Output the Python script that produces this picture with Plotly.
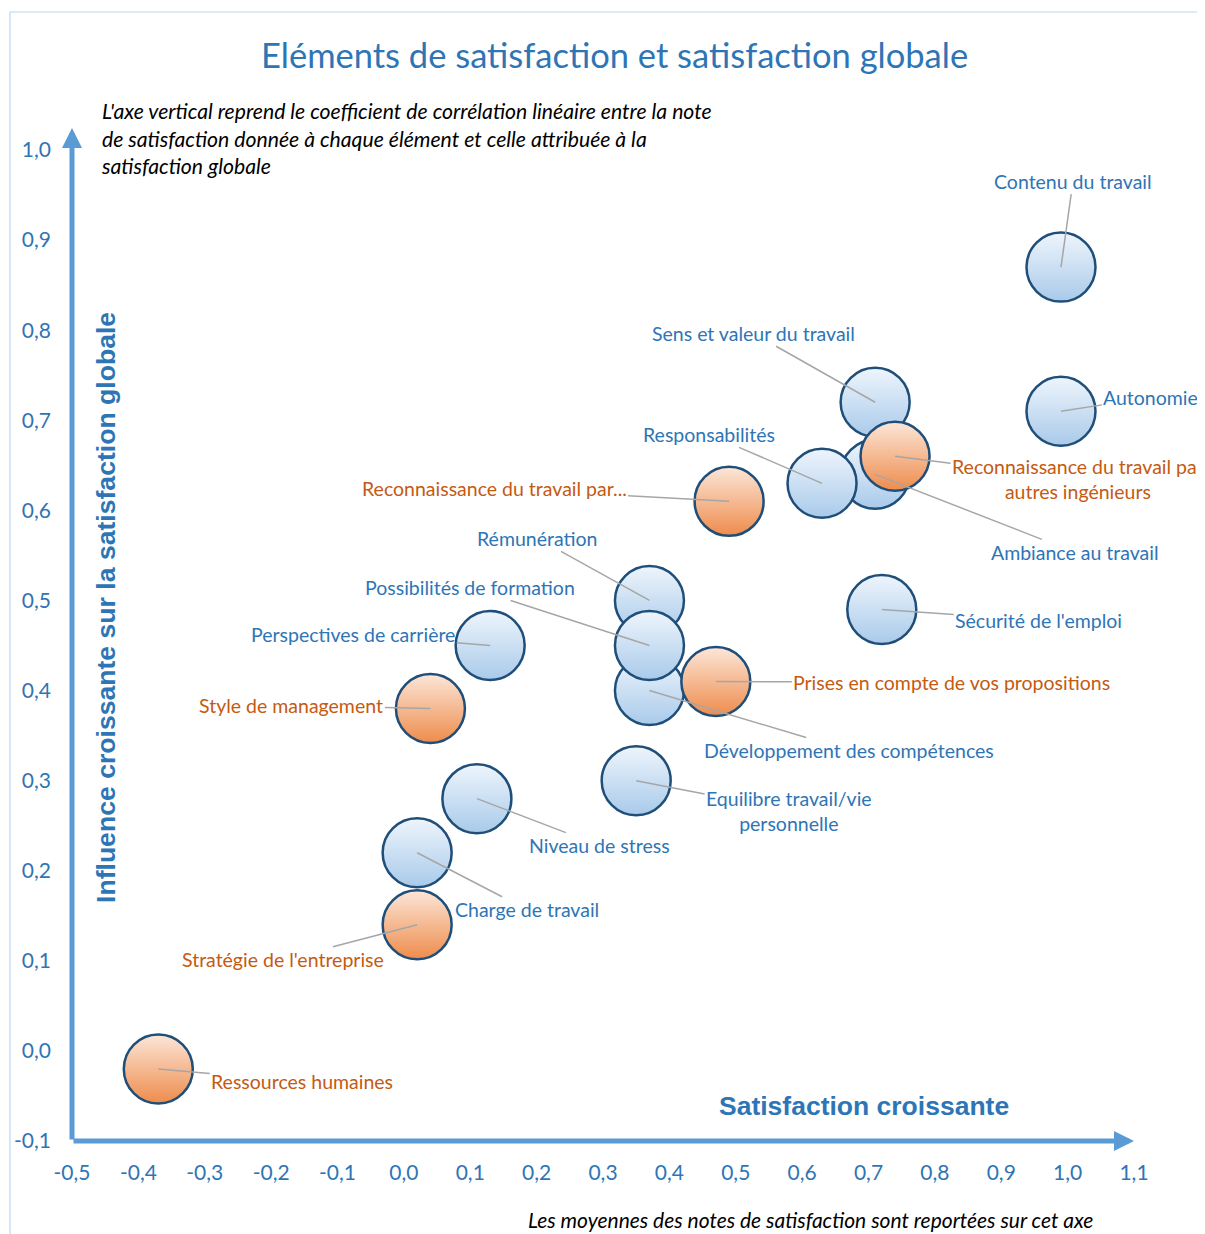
import plotly.graph_objects as go

# ---------------- data ----------------
blue_names = ["Contenu du travail", "Autonomie", "Ambiance au travail", "Sens et valeur du travail",
              "Responsabilités", "Sécurité de l'emploi", "Rémunération", "Développement des compétences",
              "Possibilités de formation", "Perspectives de carrière", "Equilibre travail/vie<br>personnelle",
              "Niveau de stress", "Charge de travail"]
blue_x = [0.99, 0.99, 0.71, 0.71, 0.63, 0.72, 0.37, 0.37, 0.37, 0.13, 0.35, 0.11, 0.02]
blue_y = [0.87, 0.71, 0.64, 0.72, 0.63, 0.49, 0.50, 0.40, 0.45, 0.45, 0.30, 0.28, 0.22]

orange_names = ["Reconnaissance du travail par<br>autres ingénieurs", "Reconnaissance du travail par...",
                "Prises en compte de vos propositions", "Style de management",
                "Stratégie de l'entreprise", "Ressources humaines"]
orange_x = [0.74, 0.49, 0.47, 0.04, 0.02, -0.37]
orange_y = [0.66, 0.61, 0.41, 0.38, 0.14, -0.02]

x_ticks = [-0.5, -0.4, -0.3, -0.2, -0.1, 0.0, 0.1, 0.2, 0.3, 0.4, 0.5, 0.6, 0.7, 0.8, 0.9, 1.0, 1.1]
y_ticks = [-0.1, 0.0, 0.1, 0.2, 0.3, 0.4, 0.5, 0.6, 0.7, 0.8, 0.9, 1.0]
x_ticktext = [f"{v:.1f}".replace(".", ",") for v in x_ticks]
y_ticktext = [f"{v:.1f}".replace(".", ",") for v in y_ticks]

# label offsets in pixels (layout only)
blue_off = [(12, -86), (90, -14), (200, 78), (-122, -69), (-113, -49), (157, 11), (-112, -62),
            (200, 60), (-179, -58), (-137, -11), (153, 30), (123, 47), (110, 57)]
orange_off = [(183, 23), (-235, -13), (236, 1), (-139, -3), (-134, 35), (144, 13)]

BLUE_TXT = "#2E75B6"
ORANGE_TXT = "#C55A11"
AXIS_C = "#5B9BD5"
FONT = "Lato"

fig = go.Figure()
fig.add_trace(go.Scatter(
    x=blue_x, y=blue_y, mode="markers", hoverinfo="skip", cliponaxis=False,
    marker=dict(size=69, color="#EEF5FC", line=dict(color="#1F4E79", width=2.5),
                gradient=dict(type="vertical", color="#A9CAEA")),
))
fig.add_trace(go.Scatter(
    x=orange_x, y=orange_y, mode="markers", hoverinfo="skip", cliponaxis=False,
    marker=dict(size=69, color="#FCE6D8", line=dict(color="#1F4E79", width=2.5),
                gradient=dict(type="vertical", color="#EE8C4C")),
))

annotations = []
for names, xs, ys, offs, col in [(blue_names, blue_x, blue_y, blue_off, BLUE_TXT),
                                 (orange_names, orange_x, orange_y, orange_off, ORANGE_TXT)]:
    for n, x, y, (ax, ay) in zip(names, xs, ys, offs):
        annotations.append(dict(
            x=x, y=y, xref="x", yref="y", text=n, showarrow=True, arrowhead=0,
            arrowwidth=1.5, arrowcolor="#A6A6A6", ax=ax, ay=ay,
            font=dict(family=FONT, size=19.5, color=col), align="center",
        ))

# axis arrows
annotations.append(dict(x=-0.5, y=1.0244, xref="x", yref="y", ax=-0.5, ay=-0.1, axref="x", ayref="y",
                        text="", showarrow=True, arrowhead=2, arrowwidth=5, arrowsize=0.8,
                        arrowcolor=AXIS_C))
annotations.append(dict(x=1.1, y=-0.1, xref="x", yref="y", ax=-0.5, ay=-0.1, axref="x", ayref="y",
                        text="", showarrow=True, arrowhead=2, arrowwidth=5, arrowsize=0.8,
                        arrowcolor=AXIS_C))

# titles and notes
annotations.append(dict(x=(614 - 72) / 1062, y=(1141 - 55) / 991, xref="paper", yref="paper",
                        text="Eléments de satisfaction et satisfaction globale", showarrow=False,
                        xanchor="center", yanchor="middle",
                        font=dict(family=FONT, size=34.5, color=BLUE_TXT)))
annotations.append(dict(x=(99 - 72) / 1062, y=(1141 - 96) / 991, xref="paper", yref="paper",
                        text="<i>L'axe vertical reprend le coefficient de corrélation linéaire entre la note<br>"
                             "de satisfaction donnée à chaque élément et celle attribuée à la<br>"
                             "satisfaction globale</i>",
                        showarrow=False, xanchor="left", yanchor="top", align="left",
                        font=dict(family=FONT, size=21.2, color="#000000")))
annotations.append(dict(x=(810 - 72) / 1062, y=(1141 - 1219) / 991, xref="paper", yref="paper",
                        text="<i>Les moyennes des notes de satisfaction sont reportées sur cet axe</i>",
                        showarrow=False, xanchor="center", yanchor="middle",
                        font=dict(family=FONT, size=21, color="#000000")))
annotations.append(dict(x=(106 - 72) / 1062, y=(1141 - 608) / 991, xref="paper", yref="paper",
                        text="<b>Influence croissante sur la satisfaction globale</b>", textangle=-90,
                        showarrow=False, xanchor="center", yanchor="middle",
                        font=dict(family="Liberation Sans", size=26.6, color=BLUE_TXT)))
annotations.append(dict(x=(864 - 72) / 1062, y=(1141 - 1106) / 991, xref="paper", yref="paper",
                        text="<b>Satisfaction croissante</b>",
                        showarrow=False, xanchor="center", yanchor="middle",
                        font=dict(family="Liberation Sans", size=26.5, color=BLUE_TXT)))

fig.update_layout(
    width=1197, height=1226,
    margin=dict(l=64, r=71, t=142, b=93),
    paper_bgcolor="white", plot_bgcolor="white",
    showlegend=False,
    annotations=annotations,
    shapes=[dict(type="rect", xref="paper", yref="paper", xsizemode="pixel", ysizemode="pixel",
                 xanchor=0, yanchor=1, x0=-62, x1=1400, y0=138, y1=-1400,
                 line=dict(color="#BDD7EE", width=1.2), fillcolor="rgba(0,0,0,0)", layer="below")],
    xaxis=dict(range=[-0.5, 1.1], tickvals=x_ticks, ticktext=x_ticktext, showgrid=False, zeroline=False,
               showline=False, ticks="", ticklabelstandoff=17, automargin=False,
               tickfont=dict(family=FONT, size=21, color=BLUE_TXT)),
    yaxis=dict(range=[-0.1, 1.0], tickvals=y_ticks, ticktext=y_ticktext, showgrid=False, zeroline=False,
               showline=False, ticks="", ticklabelstandoff=20, automargin=False,
               tickfont=dict(family=FONT, size=21, color=BLUE_TXT)),
)

fig.write_html("out.html")
